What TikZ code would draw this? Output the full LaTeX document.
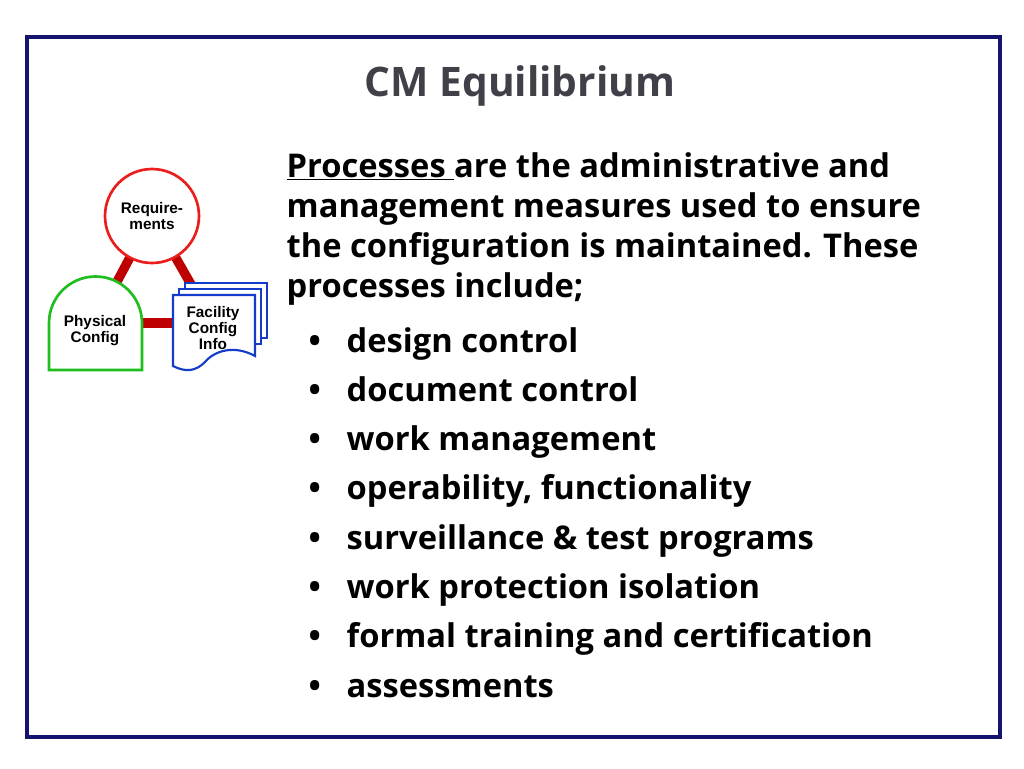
\documentclass[tikz,border=0pt]{standalone}
\usepackage{fontspec}
\setmainfont{Open Sans}
\newfontfamily\diagfont{Liberation Sans}
\usetikzlibrary{positioning}
\definecolor{framecol}{RGB}{20,20,110}
\definecolor{linkcol}{RGB}{190,0,0}
\definecolor{reqcol}{RGB}{235,30,30}
\definecolor{physcol}{RGB}{30,190,30}
\definecolor{infocol}{RGB}{20,60,200}
\definecolor{titlecol}{RGB}{64,64,72}
\tikzset{
  link/.style={linkcol, line width=7pt},
  smalltext/.style={font=\diagfont\bfseries\fontsize{11.5}{12}\selectfont, align=center},
  bullettext/.style={anchor=base west, font=\bfseries\fontsize{24.5}{27}\selectfont},
  page/.style={infocol, line width=1.6pt, fill=white},
}
\begin{document}
\begin{tikzpicture}[x=0.75pt, y=-0.75pt]
\useasboundingbox (0,0) rectangle (1024,768);
\fill[white] (0,0) rectangle (1024,768);
\draw[framecol, line width=2.4pt] (27,37) rectangle (1000,737);

\node (title) at (520,86) {\bfseries\fontsize{30.5}{32}\selectfont\color{titlecol}CM Equilibrium};

% links
\coordinate (req) at (152,216);
\coordinate (phys) at (95,323);
\coordinate (info) at (213,323);
\draw[link] (req) -- (phys);
\draw[link] (req) -- (info);
\draw[link] (phys) -- (info);

% requirements
\draw[reqcol, line width=2pt, fill=white] (req) circle (47);
\node[smalltext] (reqtext) at (req) {Require-\\ments};

% physical configuration
\draw[physcol, line width=2pt, fill=white] (49,370) -- (49,323) arc[start angle=180, end angle=360, radius=46.5] -- (142,370) -- cycle;
\node[smalltext] (phystext) at (95,331) {Physical\\Config};

% facility documents
\foreach \d in {12,6,0}{
  \draw[page] (173+\d,295-\d) rectangle (255+\d,350-\d);
}
\draw[page] (173,295) -- (255,295) -- (255,356)
  .. controls (235,345) and (215,350) .. (205,362)
  .. controls (195,372) and (185,372) .. (173,366) -- cycle;
\node[smalltext] (infotext) at (213,328) {Facility\\Config\\Info};

% text
\node[bullettext] (intro) at (282,177) {\underline{Processes }are the administrative and};
\node[bullettext] (l2) at (282,217) {management measures used to ensure};
\node[bullettext] (l3) at (282,257) {the configuration is maintained. These};
\node[bullettext] (l4) at (282,297) {processes include;};
\foreach \t [count=\i from 0] in {design control, document control, work management,
  {operability, functionality}, surveillance \& test programs, work protection isolation,
  formal training and certification, assessments}{
  \node[bullettext] (b\i) at (342,352+49.3*\i) {\t};
  \node[bullettext] (dot\i) at (304,352+49.3*\i) {\textbullet};
}
\end{tikzpicture}
\end{document}
